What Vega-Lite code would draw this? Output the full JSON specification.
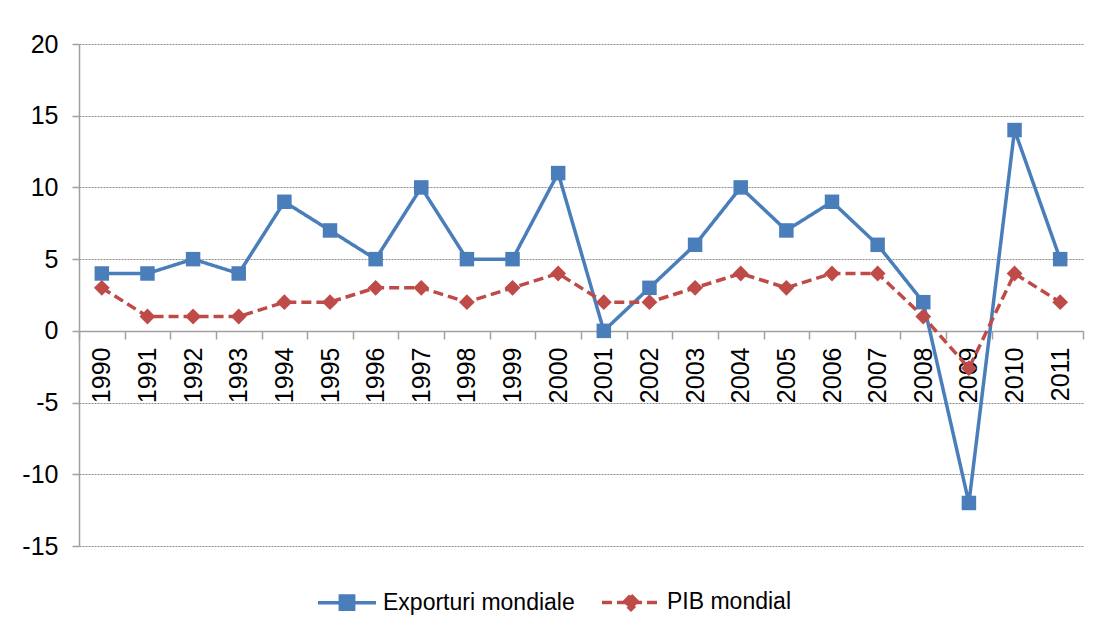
{
  "$schema": "https://vega.github.io/schema/vega-lite/v6.json",
  "width": 1004,
  "height": 502,
  "autosize": {"type": "none"},
  "padding": {"left": 79, "top": 44, "right": 15, "bottom": 82},
  "background": "white",
  "config": {
    "view": {"stroke": null},
    "font": "Liberation Sans, Arial",
    "axis": {"labelFont": "Liberation Sans, Arial", "labelColor": "#000000"},
    "legend": {"labelFont": "Liberation Sans, Arial"}
  },
  "data": {
    "values": [
      {"year": "1990", "series": "Exporturi mondiale", "value": 4},
      {"year": "1991", "series": "Exporturi mondiale", "value": 4},
      {"year": "1992", "series": "Exporturi mondiale", "value": 5},
      {"year": "1993", "series": "Exporturi mondiale", "value": 4},
      {"year": "1994", "series": "Exporturi mondiale", "value": 9},
      {"year": "1995", "series": "Exporturi mondiale", "value": 7},
      {"year": "1996", "series": "Exporturi mondiale", "value": 5},
      {"year": "1997", "series": "Exporturi mondiale", "value": 10},
      {"year": "1998", "series": "Exporturi mondiale", "value": 5},
      {"year": "1999", "series": "Exporturi mondiale", "value": 5},
      {"year": "2000", "series": "Exporturi mondiale", "value": 11},
      {"year": "2001", "series": "Exporturi mondiale", "value": 0},
      {"year": "2002", "series": "Exporturi mondiale", "value": 3},
      {"year": "2003", "series": "Exporturi mondiale", "value": 6},
      {"year": "2004", "series": "Exporturi mondiale", "value": 10},
      {"year": "2005", "series": "Exporturi mondiale", "value": 7},
      {"year": "2006", "series": "Exporturi mondiale", "value": 9},
      {"year": "2007", "series": "Exporturi mondiale", "value": 6},
      {"year": "2008", "series": "Exporturi mondiale", "value": 2},
      {"year": "2009", "series": "Exporturi mondiale", "value": -12},
      {"year": "2010", "series": "Exporturi mondiale", "value": 14},
      {"year": "2011", "series": "Exporturi mondiale", "value": 5},
      {"year": "1990", "series": "PIB mondial", "value": 3},
      {"year": "1991", "series": "PIB mondial", "value": 1},
      {"year": "1992", "series": "PIB mondial", "value": 1},
      {"year": "1993", "series": "PIB mondial", "value": 1},
      {"year": "1994", "series": "PIB mondial", "value": 2},
      {"year": "1995", "series": "PIB mondial", "value": 2},
      {"year": "1996", "series": "PIB mondial", "value": 3},
      {"year": "1997", "series": "PIB mondial", "value": 3},
      {"year": "1998", "series": "PIB mondial", "value": 2},
      {"year": "1999", "series": "PIB mondial", "value": 3},
      {"year": "2000", "series": "PIB mondial", "value": 4},
      {"year": "2001", "series": "PIB mondial", "value": 2},
      {"year": "2002", "series": "PIB mondial", "value": 2},
      {"year": "2003", "series": "PIB mondial", "value": 3},
      {"year": "2004", "series": "PIB mondial", "value": 4},
      {"year": "2005", "series": "PIB mondial", "value": 3},
      {"year": "2006", "series": "PIB mondial", "value": 4},
      {"year": "2007", "series": "PIB mondial", "value": 4},
      {"year": "2008", "series": "PIB mondial", "value": 1},
      {"year": "2009", "series": "PIB mondial", "value": -2.6},
      {"year": "2010", "series": "PIB mondial", "value": 4},
      {"year": "2011", "series": "PIB mondial", "value": 2}
    ]
  },
  "encoding": {
    "x": {
      "field": "year",
      "type": "ordinal",
      "bandPosition": 0.5,
      "scale": {"type": "band", "paddingInner": 0, "paddingOuter": 0},
      "axis": {
        "title": null,
        "offset": -215,
        "labelAngle": -90,
        "labelFontSize": 25,
        "labelPadding": 8,
        "tickSize": 8,
        "tickBand": "extent",
        "tickColor": "#a0a0a0",
        "tickWidth": 1.5,
        "domainColor": "#a0a0a0",
        "domainWidth": 1.5,
        "grid": false
      }
    },
    "y": {
      "field": "value",
      "type": "quantitative",
      "scale": {"domain": [-15, 20], "nice": false, "zero": false},
      "axis": {
        "title": null,
        "values": [-15, -10, -5, 0, 5, 10, 15, 20],
        "labelExpr": "toString(datum.value)",
        "labelFontSize": 25,
        "labelPadding": 14,
        "tickSize": 7,
        "tickColor": "#a0a0a0",
        "tickWidth": 1.5,
        "domainColor": "#a0a0a0",
        "domainWidth": 1.5,
        "grid": true,
        "gridColor": "#8c8c8c",
        "gridDash": [2, 1],
        "gridWidth": 1
      }
    },
    "color": {
      "field": "series",
      "type": "nominal",
      "scale": {"domain": ["Exporturi mondiale", "PIB mondial"], "range": ["#4A7EBB", "#BE4B48"]},
      "legend": {
        "title": null,
        "orient": "none",
        "direction": "horizontal",
        "legendX": 237,
        "legendY": 527,
        "padding": 0,
        "symbolSize": 3364,
        "symbolStrokeWidth": 3.5,
        "labelFontSize": 23,
        "labelColor": "#000000",
        "labelOffset": 5,
        "columnPadding": 20,
        "labelLimit": 400,
        "encode": {
          "symbols": {
            "update": {
              "shape": {"signal": "datum.value === 'PIB mondial' ? 'M-1,0H1M0,-0.25L0.25,0L0,0.25L-0.25,0Z' : 'M-1,0H1M-0.23,-0.23H0.23V0.23H-0.23Z'"},
              "fill": {"signal": "scale('color', datum.value)"},
              "stroke": {"signal": "scale('color', datum.value)"},
              "strokeDash": {"signal": "datum.value === 'PIB mondial' ? [9, 5] : [1, 0]"},
              "strokeWidth": {"value": 3.5},
              "opacity": {"value": 1},
              "fillOpacity": {"value": 1}
            }
          }
        }
      }
    }
  },
  "layer": [
    {
      "mark": {"type": "line", "strokeWidth": 3.5},
      "encoding": {
        "strokeDash": {
          "field": "series",
          "type": "nominal",
          "scale": {"domain": ["Exporturi mondiale", "PIB mondial"], "range": [[1, 0], [10, 5]]},
          "legend": null
        }
      }
    },
    {
      "transform": [{"filter": "datum.series === 'Exporturi mondiale'"}],
      "mark": {"type": "point", "filled": true, "opacity": 1, "size": 210, "shape": "square"}
    },
    {
      "transform": [{"filter": "datum.series === 'PIB mondial'"}],
      "mark": {"type": "point", "filled": true, "opacity": 1, "size": 250, "shape": "diamond"}
    }
  ]
}
